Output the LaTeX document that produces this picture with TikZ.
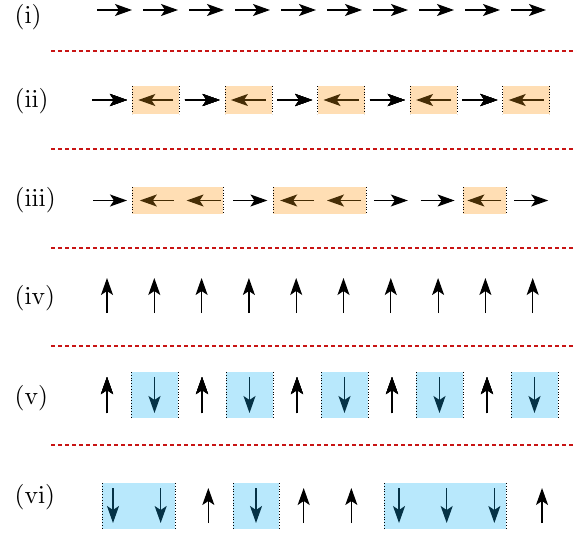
\documentclass[tikz,border=0pt]{standalone}
\usetikzlibrary{arrows.meta}
\definecolor{sepred}{RGB}{200,20,20}
\definecolor{obox}{RGB}{255,222,180}
\definecolor{bbox}{RGB}{184,232,252}
\definecolor{oarr}{RGB}{70,45,5}
\definecolor{barr}{RGB}{5,50,70}
\font\labfont=cmr10 at 25.5pt
\tikzset{
 spin/.style={line width=1.2pt, -{Stealth[length=17pt,width=12pt,inset=4pt]}},
 sepline/.style={sepred, dash pattern=on 4pt off 3pt, line width=1.3pt},
 boxside/.style={dotted, line width=0.8pt, black},
 lab/.style={anchor=west, inner sep=0pt, font=\labfont}
}
\newcommand{\spinbx}[5]{%
 \fill[#5] (#1,#2) rectangle (#3,#4);
 \draw[boxside] (#1,#2) -- (#1,#4) (#3,#2) -- (#3,#4);}
\begin{document}
\begin{tikzpicture}[x=1pt,y=-1pt]
\useasboundingbox (0,0) rectangle (573,533);
% labels
\node[lab] (l1) at (14.5,17.5) {(i)};
\node[lab] (l2) at (14.5,101) {(ii)};
\node[lab] (l3) at (14.5,200) {(iii)};
\node[lab] (l4) at (14.5,298) {(iv)};
\node[lab] (l5) at (14.5,398) {(v)};
\node[lab] (l6) at (14.5,497) {(vi)};
% separators
\foreach \y in {51,149,248,346,445}
  \draw[sepline] (51,\y) -- (573,\y);
% row i
\foreach \k in {0,...,9}
  \draw[spin] ({97+46*\k},10) -- ({132+46*\k},10);
% row ii
\foreach \k in {1,3,5,7,9}
  \spinbx{109.5+46.3*\k-23.5}{86}{109.5+46.3*\k+23.5}{114}{obox}
\foreach \k in {0,2,4,6,8}
  \draw[spin] ({109.5+46.3*\k-17.5},100) -- ({109.5+46.3*\k+17.5},100);
\foreach \k in {1,3,5,7,9}
  \draw[spin,oarr] ({109.5+46.3*\k+17.5},100) -- ({109.5+46.3*\k-17.5},100);
% row iii
\spinbx{132}{187}{223}{214}{obox}
\spinbx{273}{187}{366}{214}{obox}
\spinbx{463}{187}{506}{214}{obox}
\foreach \k in {0,3,6,7,9}
  \draw[spin] ({110+46.8*\k-17},200.5) -- ({110+46.8*\k+17},200.5);
\foreach \k in {1,2,4,5,8}
  \draw[spin,oarr] ({110+46.8*\k+17},200.5) -- ({110+46.8*\k-17},200.5);
% row iv
\foreach \k in {0,...,9}
  \draw[spin] ({107+47.3*\k},313) -- ({107+47.3*\k},278);
% row v
\foreach \k in {1,3,5,7,9}
  \spinbx{107+47.5*\k-23.5}{372}{107+47.5*\k+23.5}{418}{bbox}
\foreach \k in {0,2,4,6,8}
  \draw[spin] ({107+47.5*\k},413) -- ({107+47.5*\k},377);
\foreach \k in {1,3,5,7,9}
  \draw[spin,barr] ({107+47.5*\k},377) -- ({107+47.5*\k},413);
% row vi
\spinbx{102}{483}{175}{529}{bbox}
\spinbx{233}{483}{279}{529}{bbox}
\spinbx{384}{483}{506}{529}{bbox}
\foreach \k in {2,4,5,9}
  \draw[spin] ({113+47.67*\k},523) -- ({113+47.67*\k},488);
\foreach \k in {0,1,3,6,7,8}
  \draw[spin,barr] ({113+47.67*\k},488) -- ({113+47.67*\k},523);
\end{tikzpicture}
\end{document}
